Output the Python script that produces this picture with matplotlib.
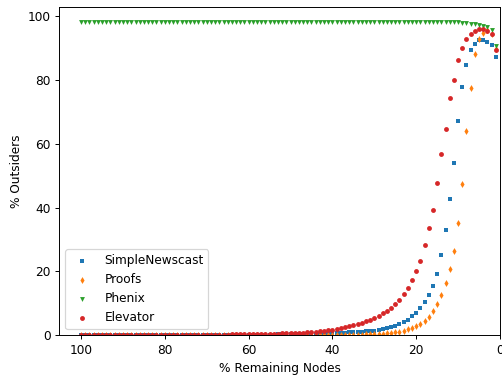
import matplotlib
matplotlib.use("Agg")
import matplotlib.pyplot as plt
import numpy as np

# % remaining nodes (x) from 100 down to 1
remaining = list(range(100, 0, -1))

# values listed for x = 1, 2, ..., 100
simple_newscast = [87.2, 90.8, 91.9, 92.5, 92.5, 91.2, 89.4, 84.5, 77.7, 67.1,
                   53.8, 42.7, 32.9, 25.3, 19.2, 15.5, 12.7, 10.3, 8.5, 7.1,
                   6.0, 4.9, 4.2, 3.5, 3.0, 2.5, 2.2, 1.9, 1.7, 1.5,
                   1.35, 1.25, 1.15, 1.05, 0.97, 0.9, 0.83, 0.77, 0.71, 0.66,
                   0.61, 0.56, 0.52, 0.48, 0.45, 0.42, 0.39, 0.36, 0.34, 0.32,
                   0.30, 0.28, 0.26, 0.24, 0.23, 0.21, 0.20, 0.19, 0.18, 0.17,
                   0.16, 0.15, 0.14, 0.13, 0.13, 0.12, 0.11, 0.11, 0.10, 0.10,
                   0.09, 0.09, 0.08, 0.08, 0.08, 0.07, 0.07, 0.07, 0.06, 0.06,
                   0.06, 0.06, 0.05, 0.05, 0.05, 0.05, 0.05, 0.04, 0.04, 0.04,
                   0.04, 0.04, 0.04, 0.03, 0.03, 0.03, 0.03, 0.03, 0.03, 0.03]

proofs = [89.5, 94.5, 95.5, 94.7, 92.8, 88.2, 77.4, 64.0, 47.5, 35.2,
          26.4, 20.8, 16.3, 12.6, 9.8, 7.6, 5.8, 4.6, 3.5, 2.8,
          2.3, 1.9, 1.4, 1.1, 0.9, 0.75, 0.62, 0.52, 0.44, 0.37,
          0.31, 0.27, 0.23, 0.20, 0.17, 0.15, 0.13, 0.11, 0.10, 0.09,
          0.08, 0.07, 0.06, 0.06, 0.05, 0.05, 0.04, 0.04, 0.04, 0.03,
          0.03, 0.03, 0.03, 0.02, 0.02, 0.02, 0.02, 0.02, 0.02, 0.02,
          0.02, 0.01, 0.01, 0.01, 0.01, 0.01, 0.01, 0.01, 0.01, 0.01,
          0.01, 0.01, 0.01, 0.01, 0.01, 0.01, 0.01, 0.01, 0.01, 0.01,
          0.01, 0.01, 0.01, 0.01, 0.01, 0.01, 0.01, 0.01, 0.01, 0.01,
          0.01, 0.01, 0.01, 0.01, 0.01, 0.01, 0.01, 0.01, 0.01, 0.01]

phenix = [90.5, 95.7, 96.6, 97.0, 97.2, 97.4, 97.6, 97.8, 97.9, 98.0] + [98.0] * 90

elevator = [89.4, 94.5, 95.4, 95.9, 95.9, 95.3, 94.5, 92.8, 90.0, 86.3,
            80.0, 74.4, 64.5, 56.9, 47.8, 39.2, 33.7, 28.4, 23.4, 20.2,
            17.2, 14.8, 12.8, 11.1, 9.7, 8.6, 7.7, 7.0, 6.1, 5.5,
            4.8, 4.4, 3.9, 3.5, 3.1, 2.8, 2.5, 2.2, 2.0, 1.8,
            1.6, 1.45, 1.3, 1.15, 1.05, 0.95, 0.87, 0.80, 0.74, 0.68,
            0.63, 0.58, 0.54, 0.50, 0.47, 0.44, 0.41, 0.38, 0.36, 0.34,
            0.32, 0.30, 0.28, 0.27, 0.25, 0.24, 0.23, 0.22, 0.21, 0.20,
            0.19, 0.18, 0.17, 0.16, 0.15, 0.15, 0.14, 0.13, 0.13, 0.12,
            0.12, 0.11, 0.11, 0.10, 0.10, 0.10, 0.09, 0.09, 0.09, 0.08,
            0.08, 0.08, 0.08, 0.07, 0.07, 0.07, 0.07, 0.07, 0.06, 0.06]

x_by_one = list(range(1, 101))

DPI = 87.5
fig = plt.figure(figsize=(503 / DPI, 377 / DPI), dpi=DPI)
ax = fig.add_axes([59.3 / 503, 1 - 335.3 / 377, (500 - 59.3) / 503, (335.3 - 6.7) / 377])

series = [
    ("SimpleNewscast", simple_newscast, "s", "#1f77b4"),
    ("Proofs", proofs, "d", "#ff7f0e"),
    ("Phenix", phenix, "v", "#2ca02c"),
    ("Elevator", elevator, "o", "#d62728"),
]
for name, vals, mk, col in series:
    ax.scatter(x_by_one, vals, marker=mk, s=16, color=col, label=name, linewidths=0)

ax.set_xlim(105.2, 0)
ax.set_ylim(0, 102.9)
ax.set_xticks([100, 80, 60, 40, 20, 0])
ax.set_xlabel("% Remaining Nodes")
ax.set_ylabel("% Outsiders")
ax.legend(loc="lower left")

fig.savefig("out.png", dpi=DPI)
